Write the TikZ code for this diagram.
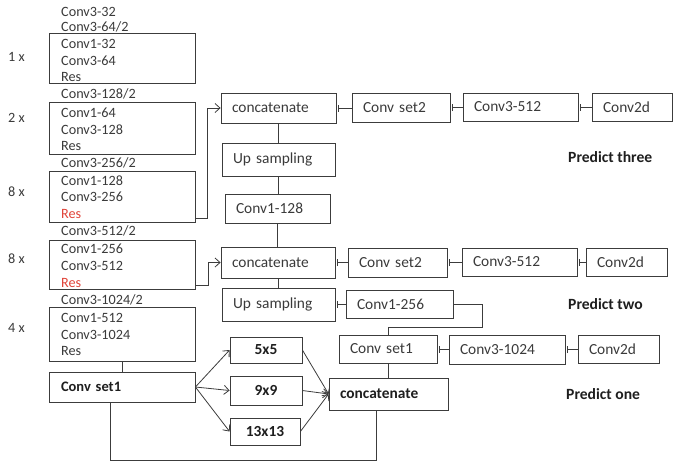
\documentclass[tikz,border=0pt]{standalone}
\usepackage{fontspec}
\setmainfont{Carlito}
\usetikzlibrary{arrows.meta,calc}
\definecolor{ink}{HTML}{3A3A3A}
\definecolor{dark}{HTML}{1E1E1E}
\definecolor{resred}{HTML}{E0443A}
\definecolor{edge}{HTML}{3C3C3C}
\begin{document}
\begin{tikzpicture}[x=1pt,y=-1pt,
 every node/.style={text=ink},
 box/.style={draw=edge, line width=0.8pt, rectangle, inner xsep=11pt, inner ysep=0pt, align=left, font=\fontsize{15.4}{18}\selectfont},
 cbox/.style={draw=edge, line width=0.8pt, rectangle, inner sep=0pt, align=center, font=\fontsize{15.4}{18}\bfseries\selectfont, text=dark},
 lbox/.style={draw=edge, line width=0.8pt, rectangle, inner sep=0pt, minimum width=146pt},
 lt/.style={anchor=base west, inner sep=0pt, font=\fontsize{14.2}{16}\selectfont},
 conn/.style={draw=edge, line width=0.8pt},
 arr/.style={conn, -{Straight Barb[length=5pt,width=9pt]}},
 barc/.style={conn, {Bar[width=7pt]}-, shorten <=2pt},
 bld/.style={anchor=base west, inner sep=0pt, font=\fontsize{15.6}{18}\bfseries\selectfont, text=dark}]
\useasboundingbox (0,0) rectangle (677,467);

% ---- left backbone ----
\node[lbox, minimum height=50pt] (L1) at (122,58) {};
\node[lbox, minimum height=52pt] (L2) at (122,128) {};
\node[lbox, minimum height=51pt] (L3) at (122,196.5) {};
\node[lbox, minimum height=49pt] (L4) at (122,264.5) {};
\node[lbox, minimum height=54pt] (L5) at (122,334) {};
\node[draw=edge, line width=0.8pt, rectangle, inner xsep=12pt, inner ysep=0pt, text width=122pt, minimum height=30pt, align=left, font=\fontsize{14.5}{17}\bfseries\selectfont, text=dark] (cs1l) at (122,387) {Conv set1};

\node[lt] (a1) at (61,16) {Conv3-32};
\node[lt] (a2) at (61,31) {Conv3-64/2};
\node[lt] (a3) at (61,48) {Conv1-32};
\node[lt] (a4) at (61,65) {Conv3-64};
\node[lt] (a5) at (61,81.5) {Res};
\node[lt] (b1) at (61,98.5) {Conv3-128/2};
\node[lt] (b2) at (61,117) {Conv1-64};
\node[lt] (b3) at (61,134) {Conv3-128};
\node[lt] (b4) at (61,150.5) {Res};
\node[lt] (c1) at (61,167.5) {Conv3-256/2};
\node[lt] (c2) at (61,185) {Conv1-128};
\node[lt] (c3) at (61,201) {Conv3-256};
\node[lt, text=resred] (c4) at (61,218) {Res};
\node[lt] (d1) at (61,235) {Conv3-512/2};
\node[lt] (d2) at (61,253) {Conv1-256};
\node[lt] (d3) at (61,270) {Conv3-512};
\node[lt, text=resred] (d4) at (61,287) {Res};
\node[lt] (e1) at (61,304) {Conv3-1024/2};
\node[lt] (e2) at (61,322) {Conv1-512};
\node[lt] (e3) at (61,339) {Conv3-1024};
\node[lt] (e4) at (61,355.5) {Res};

\node[lt] (m1) at (8,61) {1 x};
\node[lt] (m2) at (8,122) {2 x};
\node[lt] (m3) at (8,196) {8 x};
\node[lt] (m4) at (8,263) {8 x};
\node[lt] (m5) at (8,332) {4 x};

% ---- top branch ----
\node[box, text width=93pt, minimum height=30pt] (cc1) at (278.5,108) {concatenate};
\node[box, text width=76pt, minimum height=29pt] (cs2a) at (401,107.5) {Conv set2};
\node[box, text width=93pt, minimum height=28pt] (c512a) at (520.5,107) {Conv3-512};
\node[box, text width=58pt, minimum height=28pt] (c2da) at (632,107) {Conv2d};
\node[box, text width=91pt, minimum height=33pt] (up1) at (278.5,159.5) {Up sampling};
\node[box, text width=83pt, minimum height=29pt] (c128) at (277.5,208.5) {Conv1-128};

% ---- middle branch ----
\node[box, text width=92pt, minimum height=31pt] (cc2) at (278,262.5) {concatenate};
\node[box, text width=77pt, minimum height=29pt] (cs2b) at (397.5,262.5) {Conv set2};
\node[box, text width=93pt, minimum height=28pt] (c512b) at (519.5,262) {Conv3-512};
\node[box, text width=59pt, minimum height=28pt] (c2db) at (626.5,262) {Conv2d};
\node[box, text width=91pt, minimum height=33pt] (up2) at (278.5,304.5) {Up sampling};
\node[box, text width=85pt, minimum height=28pt] (c256) at (399.5,304) {Conv1-256};

% ---- bottom branch ----
\node[box, text width=76pt, minimum height=28pt] (cs1r) at (388,349) {Conv set1};
\node[box, text width=94pt, minimum height=29pt] (c1024) at (507,349.5) {Conv3-1024};
\node[box, text width=59pt, minimum height=28pt] (c2dc) at (618.5,349) {Conv2d};
\node[box, text width=97pt, minimum height=32pt, font=\fontsize{15.4}{18}\bfseries\selectfont, text=dark] (ccb) at (388.5,394) {concatenate};

\node[cbox, minimum width=72pt, minimum height=26pt] (k5) at (266,350) {5x5};
\node[cbox, minimum width=72pt, minimum height=29pt] (k9) at (266,390.5) {9x9};
\node[cbox, minimum width=70pt, minimum height=27pt] (k13) at (265,431.5) {13x13};

\node[bld] (p3) at (568,162) {Predict three};
\node[bld] (p2) at (568,309) {Predict two};
\node[bld] (p1) at (566,399) {Predict one};

% ---- connectors ----
\draw[arr] ([yshift=4pt]L3.south east) -- ++(12,0) |- (cc1.west);
\draw[arr] ([yshift=4pt]L4.south east) -- ++(13,0) |- (cc2.west);
\draw[conn] (L5.south) -- (L5.south |- cs1l.north);

\draw[barc] (cc1.east) -- (cs2a.west |- cc1.east);
\draw[barc] (cs2a.east) -- (c512a.west |- cs2a.east);
\draw[barc] (c512a.east) -- (c2da.west);
\draw[conn] (cc1.south) -- (cc1.south |- up1.north);
\draw[conn] (up1.south) -- (up1.south |- c128.north);
\draw[conn] (c128.south) -- (c128.south |- cc2.north);

\draw[barc] (cc2.east) -- (cs2b.west);
\draw[barc] (cs2b.east) -- (c512b.west |- cs2b.east);
\draw[barc] (c512b.east) -- (c2db.west);
\draw[conn] (cc2.south) -- (cc2.south |- up2.north);
\draw[barc] (up2.east) -- (c256.west |- up2.east);
\draw[conn] (c256.east) -- ++(29,0) -- ++(0,23) -| (cs1r.north);

\draw[barc] (cs1r.east) -- (c1024.west |- cs1r.east);
\draw[barc] (c1024.east) -- (c2dc.west |- c1024.east);
\draw[conn] (cs1r.south) -- (cs1r.south |- ccb.north);

\draw[arr] (cs1l.east) -- (k5.west);
\draw[arr] (cs1l.east) -- (k9.west);
\draw[arr] (cs1l.east) -- (k13.west);
\draw[arr] (k5.east) -- (ccb.west);
\draw[arr] (k9.east) -- (ccb.west);
\draw[arr] (k13.east) -- (ccb.west);
\draw[conn] ([xshift=-12pt]cs1l.south) -- ++(0,58) -| ([xshift=-12.5pt]ccb.south);
\end{tikzpicture}
\end{document}
